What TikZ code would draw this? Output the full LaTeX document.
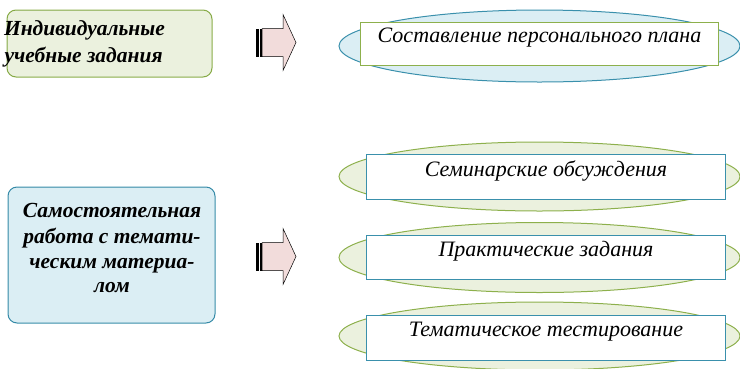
\documentclass[tikz,border=0pt]{standalone}
\usepackage{fontspec}
\setmainfont{Liberation Serif}
\usetikzlibrary{shapes.geometric}
\definecolor{greenfill}{HTML}{EBF1DE}
\definecolor{greenline}{HTML}{8DB04C}
\definecolor{bluefill}{HTML}{DBEEF4}
\definecolor{blueline}{HTML}{3A90AC}
\definecolor{arrowfill}{HTML}{F2DCDB}
\tikzset{
  topicbox/.style={draw, line width=1pt, rounded corners=9pt, inner sep=0pt},
  topicline/.style={font=\fontsize{21.5}{25}\selectfont\bfseries\itshape},
  oval/.style={ellipse, draw, line width=1pt, inner sep=0pt, minimum width=401pt},
  itemslot/.style={rectangle, inner sep=0pt, minimum width=358pt},
  itemtext/.style={anchor=base, font=\fontsize{22}{24}\selectfont\itshape},
  itemframe/.style={line width=1pt},
  arrowbody/.style={draw=black, line width=0.5pt, fill=arrowfill},
  stripe/.style={fill=black, draw=none}
}
\begin{document}
\begin{tikzpicture}[x=1pt,y=-1pt]
\useasboundingbox (0,0) rectangle (740,368);

% frames of the activity boxes (placed only, drawn further down)
\node[itemslot, minimum width=357pt, minimum height=42pt] (plan) at (539.5,44) {};
\node[itemslot, minimum height=44pt] (sem)  at (546,177) {};
\node[itemslot, minimum height=43pt] (prac) at (546,257.5) {};
\node[itemslot, minimum height=44pt] (test) at (546,338) {};

% lettering first, one node per line; tinted areas are laid over it in multiply mode
\node[topicline, anchor=base west] (indivline1) at (0.5,35) {Индивидуальные};
\node[topicline, anchor=base west] (indivline2) at (1,62) {учебные задания};
\node[topicline, anchor=base] (selfline1) at (112,217) {Самостоятельная};
\node[topicline, anchor=base] (selfline2) at (112,243) {работа с темати-};
\node[topicline, anchor=base] (selfline3) at (112,268) {ческим материа-};
\node[topicline, anchor=base] (selfline4) at (112,292) {лом};
\node[itemtext] (plantext) at ([yshift=-20pt]plan.north) {Составление персонального плана};
\node[itemtext] (semtext)  at ([yshift=-22pt]sem.north)  {Семинарские обсуждения};
\node[itemtext] (practext) at ([yshift=-21pt]prac.north) {Практические задания};
\node[itemtext] (testtext) at ([yshift=-21pt]test.north) {Тематическое тестирование};

% rounded topic boxes
\begin{scope}[blend mode=multiply]
\node[topicbox, fill=greenfill, draw=greenline, minimum width=205pt, minimum height=67pt] (indiv) at (109.5,43.5) {};
\node[topicbox, fill=bluefill, draw=blueline, minimum width=207pt, minimum height=136pt] (self) at (111.5,255) {};
\end{scope}

% ovals behind the activity boxes, cut away where a box covers them
\foreach \slot/\oname/\ofill/\oline/\ocy/\oh in
  {plan/ovalplan/bluefill/blueline/46/72, sem/ovalsem/greenfill/greenline/176.5/69,
   prac/ovalprac/greenfill/greenline/257.5/70, test/ovaltest/greenfill/greenline/336/68} {
  \begin{scope}
    \clip (-10,-10) -- (750,-10) -- (750,380) -- (-10,380) -- cycle
      (\slot.north west) -- (\slot.south west) -- (\slot.south east) -- (\slot.north east) -- cycle;
    \node[oval, fill=\ofill, draw=\oline, minimum height=\oh pt] (\oname) at (539.5,\ocy) {};
  \end{scope}
}

% activity box frames
\draw[itemframe, draw=greenline] (plan.north west) rectangle (plan.south east);
\draw[itemframe, draw=blueline] (sem.north west) rectangle (sem.south east);
\draw[itemframe, draw=blueline] (prac.north west) rectangle (prac.south east);
\draw[itemframe, draw=blueline] (test.north west) rectangle (test.south east);

% striped block arrows
\foreach \cy in {42.5,256.5} {
  \fill[stripe] (256,\cy-14) rectangle (259,\cy+14);
  \fill[stripe] (260,\cy-14) rectangle (262,\cy+14);
  \draw[arrowbody] (262,\cy-14) -- (283,\cy-14) -- (283,\cy-28) -- (296,\cy)
    -- (283,\cy+28) -- (283,\cy+14) -- (262,\cy+14) -- cycle;
}
\end{tikzpicture}
\end{document}
